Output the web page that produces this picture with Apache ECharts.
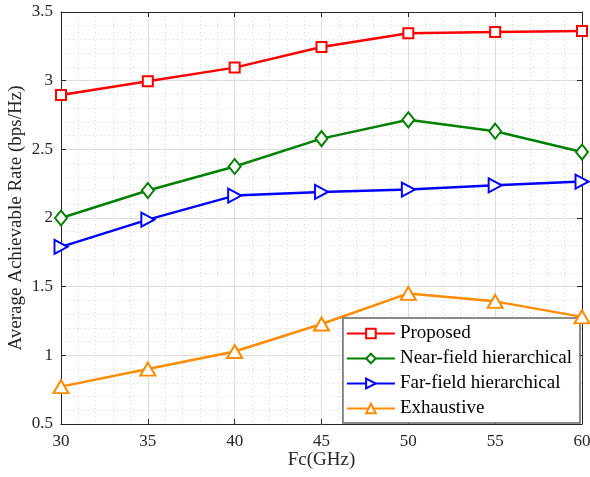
<!DOCTYPE html>
<html><head><meta charset="utf-8">
<script src="https://cdn.jsdelivr.net/npm/echarts@6/dist/echarts.min.js"></script>
<style>html,body{margin:0;padding:0;background:#fff}#c{width:590px;height:477px}</style>
</head><body><div id="c"></div>
<script>
const freqs = [30, 35, 40, 45, 50, 55, 60];
const proposed = [2.895, 2.995, 3.095, 3.245, 3.345, 3.355, 3.362];
const nearField = [2.0, 2.2, 2.375, 2.578, 2.715, 2.632, 2.48];
const farField = [1.79, 1.988, 2.163, 2.19, 2.207, 2.238, 2.265];
const exhaustive = [0.772, 0.9, 1.028, 1.228, 1.451, 1.393, 1.28];
const seriesNames = ['Proposed', 'Near-field hierarchical', 'Far-field hierarchical', 'Exhaustive'];
const yTicks = [0.5, 1, 1.5, 2, 2.5, 3, 3.5];

const font = '"Liberation Serif", "Times New Roman", serif';
const axisColor = '#262626';
const chart = echarts.init(document.getElementById('c'));

function mk(name, data, color, symbol, size) {
  return {
    name, type: 'line', data: freqs.map((f, i) => [f, data[i]]),
    symbol, symbolSize: size, showSymbol: true,
    lineStyle: { color, width: 2.5 },
    itemStyle: { color: '#fff', borderColor: color, borderWidth: 2 },
    emphasis: { disabled: true }, z: 5
  };
}

const baseX = {
  type: 'value', min: 30, max: 60, interval: 5,
  axisLine: { show: true, lineStyle: { color: axisColor, width: 1 } },
  axisTick: { show: true, inside: true, length: 5, lineStyle: { color: axisColor } },
  splitLine: { show: false }, minorTick: { show: false }, minorSplitLine: { show: false }
};
const baseY = {
  type: 'value', min: 0.5, max: 3.5, interval: 0.5,
  axisLine: { show: true, lineStyle: { color: axisColor, width: 1 } },
  axisTick: { show: true, inside: true, length: 5, lineStyle: { color: axisColor } },
  splitLine: { show: false }, minorTick: { show: false }, minorSplitLine: { show: false }
};

chart.setOption({
  animation: false,
  backgroundColor: '#fff',
  grid: { left: 61, right: 8, top: 12, bottom: 53, containLabel: false, outerBoundsMode: 'none' },
  xAxis: [
    Object.assign({}, baseX, {
      position: 'bottom',
      name: 'Fc(GHz)', nameLocation: 'middle', nameGap: 27, nameMoveOverlap: false,
      nameTextStyle: { fontFamily: font, fontSize: 19, color: axisColor },
      axisLabel: { fontFamily: font, fontSize: 17, color: axisColor, margin: 9, formatter: v => String(v) },
      splitLine: { show: true, lineStyle: { color: '#dedede', width: 1 } },
      minorTick: { show: false, splitNumber: 5 },
      minorSplitLine: { show: true, lineStyle: { color: '#d8d8d8', width: 1, type: [1, 3] } }
    }),
    Object.assign({}, baseX, { position: 'top', axisLabel: { show: false } })
  ],
  yAxis: [
    Object.assign({}, baseY, {
      position: 'left',
      name: 'Average Achievable Rate (bps/Hz)', nameLocation: 'middle', nameGap: 35, nameMoveOverlap: false,
      nameTextStyle: { fontFamily: font, fontSize: 19, color: axisColor },
      axisLabel: { fontFamily: font, fontSize: 17, color: axisColor, margin: 8,
        formatter: v => yTicks.includes(v) ? String(v) : '' },
      splitLine: { show: true, lineStyle: { color: '#dedede', width: 1 } },
      minorTick: { show: false, splitNumber: 5 },
      minorSplitLine: { show: true, lineStyle: { color: '#d8d8d8', width: 1, type: [1, 3] } }
    }),
    Object.assign({}, baseY, { position: 'right', axisLabel: { show: false } })
  ],
  legend: {
    orient: 'vertical', right: 10, bottom: 54,
    data: seriesNames,
    backgroundColor: '#fff', borderColor: '#666', borderWidth: 1.5,
    padding: [6, 8, 5, 3], itemGap: 6, itemWidth: 48, itemHeight: 12,
    textStyle: { fontFamily: font, fontSize: 19, color: '#000', lineHeight: 18 },
    selectedMode: false
  },
  series: [
    mk(seriesNames[0], proposed, '#ff0000', 'rect', 10),
    mk(seriesNames[1], nearField, '#008000', 'diamond', [12, 15]),
    mk(seriesNames[2], farField, '#0000ff', 'path://M0,0 L10,5 L0,10 Z', [13, 14]),
    mk(seriesNames[3], exhaustive, '#ff8c00', 'triangle', [15, 13])
  ]
});
</script></body></html>
